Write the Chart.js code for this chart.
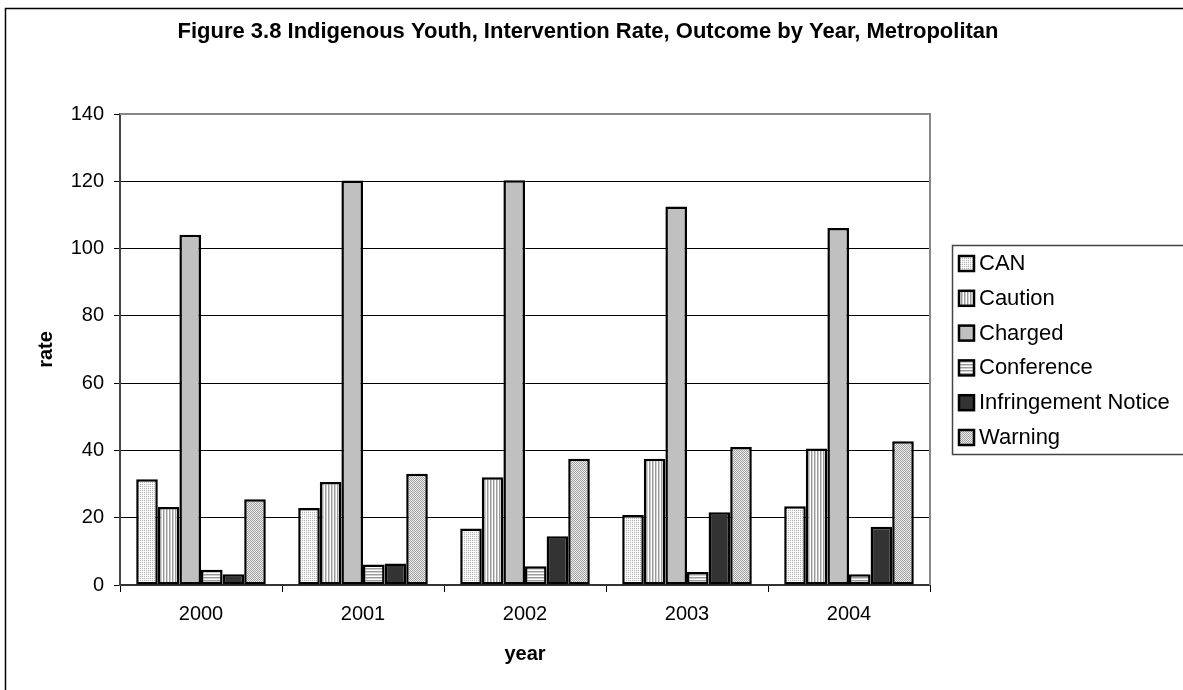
<!DOCTYPE html>
<html>
<head>
<meta charset="utf-8">
<title>Figure 3.8</title>
<script src="https://cdn.jsdelivr.net/npm/chart.js@4.4.1/dist/chart.umd.min.js"></script>
<style>
  html, body { margin: 0; padding: 0; background: #fff; }
  #wrap { width: 1183px; height: 690px; }
</style>
</head>
<body>
<div id="wrap"><canvas id="chart" width="1183" height="690"></canvas></div>
<script>
const chartTitle = 'Figure 3.8 Indigenous Youth, Intervention Rate, Outcome by Year, Metropolitan';
const years = ['2000', '2001', '2002', '2003', '2004'];
const outcomes = ['CAN', 'Caution', 'Charged', 'Conference', 'Infringement Notice', 'Warning'];

// rate per outcome, one value per year
const canRate = [31.4, 22.9, 16.8, 20.8, 23.4];
const cautionRate = [23.2, 30.6, 32.0, 37.5, 40.6];
const chargedRate = [104.1, 120.2, 120.3, 112.5, 106.1];
const conferenceRate = [4.5, 6.1, 5.6, 3.9, 3.2];
const infringementRate = [3.2, 6.4, 14.5, 21.6, 17.3];
const warningRate = [25.5, 33.1, 37.5, 41.0, 42.7];

const rateTicks = [0, 20, 40, 60, 80, 100, 120, 140];

const FONT = "'Liberation Sans', Arial, sans-serif";

// small repeating tiles for the hatched fills
function makePattern(w, h, pixels) {
    const c = document.createElement('canvas');
    c.width = w;
    c.height = h;
    const g = c.getContext('2d');
    pixels.forEach((col, i) => {
        g.fillStyle = col;
        g.fillRect(i % w, Math.floor(i / w), 1, 1);
    });
    return g.createPattern(c, 'repeat');
}

const fills = [
    makePattern(2, 2, ['#b4b4b4', '#f4f4f4', '#f4f4f4', '#ffffff']),   // light dots
    makePattern(3, 1, ['#ffffff', '#9a9a9a', '#d0d0d0']),              // vertical lines
    '#c0c0c0',
    makePattern(1, 3, ['#ffffff', '#9a9a9a', '#d0d0d0']),              // horizontal lines
    '#333333',
    makePattern(2, 2, ['#a0a0a0', '#eeeeee', '#eeeeee', '#a0a0a0'])    // dense dots
];

const series = [canRate, cautionRate, chargedRate, conferenceRate, infringementRate, warningRate];

const datasets = outcomes.map((name, i) => ({
    label: name,
    data: series[i],
    backgroundColor: fills[i],
    borderColor: '#000',
    borderWidth: 2.5,
    borderSkipped: false,
    categoryPercentage: 0.8,
    barPercentage: 1.0
}));

// page frame, title, plot outline and the boxed legend on the right
const framePlugin = {
    id: 'frame',
    beforeDraw(chart) {
        const ctx = chart.ctx;
        ctx.save();
        ctx.fillStyle = '#fff';
        ctx.fillRect(0, 0, chart.width, chart.height);
        ctx.strokeStyle = '#000';
        ctx.lineWidth = 1.5;
        ctx.beginPath();
        ctx.moveTo(5.5, chart.height + 2);
        ctx.lineTo(5.5, 8.5);
        ctx.lineTo(chart.width + 2, 8.5);
        ctx.stroke();

        ctx.fillStyle = '#000';
        ctx.font = 'bold 22px ' + FONT;
        ctx.textAlign = 'center';
        ctx.textBaseline = 'middle';
        ctx.fillText(chartTitle, 588, 32);
        ctx.restore();
    },
    afterDraw(chart) {
        const ctx = chart.ctx;
        const area = chart.chartArea;
        ctx.save();
        ctx.strokeStyle = '#888';
        ctx.lineWidth = 2;
        ctx.beginPath();
        ctx.moveTo(area.left, area.top);
        ctx.lineTo(area.right, area.top);
        ctx.lineTo(area.right, area.bottom);
        ctx.stroke();

        // legend
        const box = { left: 952, top: 245, bottom: 454 };
        ctx.strokeStyle = '#444';
        ctx.lineWidth = 1.5;
        ctx.strokeRect(box.left + 0.5, box.top + 0.5, 260, box.bottom - box.top);

        ctx.font = '22px ' + FONT;
        ctx.textAlign = 'left';
        ctx.textBaseline = 'middle';
        chart.data.datasets.forEach((ds, i) => {
            const cy = 263 + i * 34.8;
            ctx.fillStyle = ds.backgroundColor;
            ctx.fillRect(959, cy - 7, 15, 15);
            ctx.strokeStyle = '#000';
            ctx.lineWidth = 2.5;
            ctx.strokeRect(959, cy - 7, 15, 15);
            ctx.fillStyle = '#000';
            ctx.fillText(ds.label, 979, cy + 1);
        });
        ctx.restore();
    }
};

new Chart(document.getElementById('chart'), {
    type: 'bar',
    data: { labels: years, datasets },
    options: {
        responsive: false,
        animation: false,
        devicePixelRatio: 1,
        layout: { padding: { left: 0, right: 253, top: 114, bottom: 0 } },
        plugins: {
            legend: { display: false },
            title: { display: false },
            tooltip: { enabled: false }
        },
        scales: {
            x: {
                offset: true,
                grid: { drawOnChartArea: false, drawTicks: true, tickLength: 7, color: '#000', lineWidth: 1 },
                border: { color: '#333', width: 2 },
                ticks: { color: '#000', font: { family: FONT, size: 20 }, padding: 10, maxRotation: 0 },
                title: {
                    display: true, text: 'year', color: '#000',
                    font: { family: FONT, size: 20, weight: 'bold' },
                    padding: { top: 0, bottom: 24 }
                },
                afterFit: s => { s.height = 105; }
            },
            y: {
                min: rateTicks[0],
                max: rateTicks[rateTicks.length - 1],
                ticks: {
                    stepSize: rateTicks[1] - rateTicks[0],
                    color: '#000', font: { family: FONT, size: 20 }, padding: 10
                },
                grid: {
                    color: c => (c.tick && c.tick.value === rateTicks[rateTicks.length - 1]) ? '#888' : '#000',
                    lineWidth: 1,
                    tickLength: 6,
                    tickColor: '#000'
                },
                border: { color: '#444', width: 2 },
                title: {
                    display: true, text: 'rate', color: '#000',
                    font: { family: FONT, size: 20, weight: 'bold' },
                    padding: { top: 34, bottom: 0 }
                },
                afterFit: s => { s.width = 120; }
            }
        }
    },
    plugins: [framePlugin]
});
</script>
</body>
</html>
